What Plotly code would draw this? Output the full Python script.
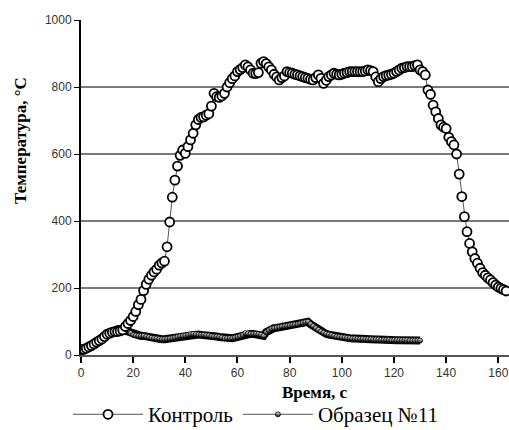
import plotly.graph_objects as go

# ---- data ----
control_t = list(range(0, 164))
control_T = [15, 17, 20, 24, 28, 33, 38, 43, 48, 55,
             62, 65, 68, 70, 70, 72, 75, 85, 94, 103,
             115, 130, 150, 166, 192, 211, 226, 238, 248, 256,
             268, 275, 280, 323, 397, 471, 522, 564, 596, 612,
             602, 622, 642, 662, 687, 703, 709, 711, 716, 720,
             743, 781, 771, 769, 773, 781, 800, 813, 825, 833,
             846, 852, 858, 866, 860, 851, 841, 840, 843, 871,
             876, 870, 860, 851, 838, 830, 821, 828, 833, 846,
             843, 841, 838, 836, 833, 831, 828, 826, 823, 821,
             828, 836, 826, 811, 820, 831, 836, 841, 838, 836,
             838, 841, 843, 846, 846, 846, 846, 846, 846, 848,
             851, 849, 846, 830, 816, 825, 831, 834, 836, 838,
             841, 846, 851, 856, 858, 861, 861, 861, 864, 866,
             851, 846, 836, 791, 778, 746, 726, 706, 687, 680,
             676, 650, 637, 627, 600, 540, 473, 413, 368, 333,
             308, 288, 274, 259, 246, 238, 230, 224, 216, 209,
             203, 199, 195, 191]

sample_t = list(range(0, 131))
sample_T = [15, 18, 22, 26, 30, 35, 40, 45, 52, 60,
            65, 68, 70, 73, 77, 80, 78, 73, 70, 65,
            60, 58, 57, 57, 57, 55, 53, 51, 50, 49,
            48, 47, 47, 48, 49, 50, 52, 54, 56, 57,
            58, 60, 62, 63, 62, 61, 60, 60, 59, 58,
            56, 55, 55, 54, 52, 50, 50, 50, 50, 52,
            54, 56, 60, 65, 64, 63, 63, 63, 62, 60,
            57, 68, 74, 78, 80, 81, 83, 85, 86, 87,
            88, 90, 91, 92, 94, 96, 98, 99, 92, 86,
            80, 75, 70, 66, 63, 61, 59, 57, 55, 54,
            53, 52, 51, 50, 49, 49, 48, 48, 48, 47,
            47, 47, 46, 46, 46, 45, 45, 45, 45, 44,
            44, 44, 44, 44, 44, 44, 43, 43, 43, 43, 43]

x_ticks = [0, 20, 40, 60, 80, 100, 120, 140, 160]
y_ticks = [0, 200, 400, 600, 800, 1000]

fig = go.Figure()
# black band under the half-filled markers
fig.add_trace(go.Scatter(
    x=sample_t, y=sample_T, mode="lines", showlegend=False, hoverinfo="skip",
    line=dict(color="black", width=8),
))
fig.add_trace(go.Scatter(
    x=sample_t, y=sample_T, mode="lines+markers", name="Образец №11",
    line=dict(color="#555555", width=1),
    marker=dict(symbol="circle", size=5, color="white",
                gradient=dict(type="vertical", color="black"),
                line=dict(color="black", width=0.8)),
))
fig.add_trace(go.Scatter(
    x=control_t, y=control_T, mode="lines+markers", name="Контроль",
    line=dict(color="#555555", width=1),
    marker=dict(symbol="circle", size=9, color="white",
                line=dict(color="black", width=1.8)),
))

fig.update_layout(
    width=509, height=430,
    margin=dict(l=81, r=0, t=20, b=75, autoexpand=False),
    paper_bgcolor="white", plot_bgcolor="white",
    showlegend=True,
    legend=dict(orientation="h", xref="container", yref="paper",
                x=68 / 509, xanchor="left", y=-0.178, yanchor="middle",
                font=dict(family="Liberation Serif", size=21, color="black"),
                itemwidth=70,
                traceorder="reversed", bgcolor="rgba(0,0,0,0)"),
    font=dict(family="Liberation Sans", size=12, color="#333333"),
    annotations=[
        dict(text="<b>Время, с</b>", xref="paper", yref="paper",
             x=(315 - 81) / 428, y=0, yshift=-37, xanchor="center", yanchor="middle",
             showarrow=False,
             font=dict(family="Liberation Serif", size=17, color="black")),
        dict(text="<b>Температура, °С</b>", xref="paper", yref="paper",
             x=0, xshift=-61, y=(355 - 141) / 335, xanchor="center", yanchor="middle",
             textangle=-90, showarrow=False,
             font=dict(family="Liberation Serif", size=17, color="black")),
    ],
)
fig.update_xaxes(range=[0, 164.1], tickvals=x_ticks, ticks="outside", ticklen=6,
                 tickcolor="black", tickwidth=1.5,
                 showline=True, linecolor="#555555", linewidth=2,
                 showgrid=False, zeroline=False, tickfont=dict(size=12, color="#333333"))
fig.update_yaxes(range=[0, 1000], tickvals=y_ticks, ticks="outside", ticklen=5,
                 tickcolor="black", tickwidth=1.2,
                 showline=True, linecolor="black", linewidth=2,
                 showgrid=True, gridcolor="#7a7a7a", gridwidth=1.5, zeroline=False,
                 tickfont=dict(size=12, color="#333333"))

fig.write_html("out.html")
